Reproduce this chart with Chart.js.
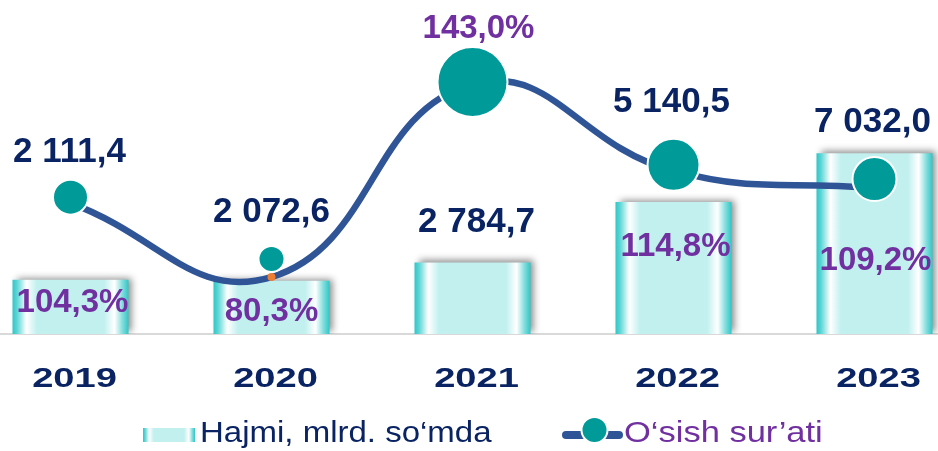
<!DOCTYPE html>
<html>
<head>
<meta charset="utf-8">
<script src="https://cdn.jsdelivr.net/npm/chart.js@4/dist/chart.umd.min.js"></script>
<style>
  html, body { margin: 0; padding: 0; background: #ffffff; overflow: hidden; width: 938px; height: 451px; }
  #wrap { position: absolute; left: -30px; top: 0; width: 1005px; height: 451px; }
</style>
</head>
<body>
<div id="wrap"><canvas id="c" width="1005" height="451"></canvas></div>
<script>
// ---------- data ----------
const years = ['2019', '2020', '2021', '2022', '2023'];
const volume = [2111.4, 2072.6, 2784.7, 5140.5, 7032.0];
const growth = [104.3, 80.3, 143.0, 114.8, 109.2];
const volumeLabels = ['2 111,4', '2 072,6', '2 784,7', '5 140,5', '7 032,0'];
const growthLabels = ['104,3%', '80,3%', '143,0%', '114,8%', '109,2%'];
const legendLabels = ['Hajmi, mlrd. so\u2018mda', 'O\u2018sish sur\u2019ati'];

// ---------- styling ----------
const NAVY = '#0a2463';
const PURPLE = '#70309f';
const TEAL = '#009a99';
const LINE = '#2f5597';
const SHIFT = 30; // canvas is shifted left by this many px
const BAR_PCT = 0.577;
const markerRadius = [17.5, 13, 35, 26, 22];
const markerLift = [6, 18, 2, 6, 9];
const volLabelOffset = [[-1, -130], [0, -71], [4, -43], [-2, -102], [-2, -34]];
const growthLabelOffset = [[2, 97], [0, 32], [6, -58], [2, 73], [1, 70]];

function barGradient(c, l, r) {
  const g = c.createLinearGradient(l, 0, r, 0);
  g.addColorStop(0, '#2ec6c6');
  g.addColorStop(0.04, '#5fd6d6');
  g.addColorStop(0.12, '#ffffff');
  g.addColorStop(0.21, '#c2f0ef');
  g.addColorStop(0.79, '#c2f0ef');
  g.addColorStop(0.88, '#ffffff');
  g.addColorStop(0.95, '#7edcdc');
  g.addColorStop(1, '#2ec6c6');
  return g;
}

function barFill(context) {
  const chart = context.chart;
  const xs = chart.scales.x;
  if (!xs || !chart.chartArea) return '#c2f0ef';
  const cx = xs.getPixelForValue(context.dataIndex);
  const w = (xs.width / years.length) * BAR_PCT;
  return barGradient(chart.ctx, cx - w / 2, cx + w / 2);
}

function drawText(c, text, x, capMid, size, weight, color, sx, align) {
  c.save();
  c.font = weight + ' ' + size + 'px "Liberation Sans", Arial, sans-serif';
  c.fillStyle = color;
  c.textAlign = align || 'center';
  c.textBaseline = 'alphabetic';
  c.translate(x, capMid + 0.358 * size);
  c.scale(sx, 1);
  c.fillText(text, 0, 0);
  c.restore();
}

const liftPlugin = {
  id: 'lift',
  afterDatasetsUpdate(chart) {
    const meta = chart.getDatasetMeta(1);
    meta.data.forEach((p, i) => { p.y -= markerLift[i]; });
  }
};

const barStyle = {
  id: 'barStyle',
  beforeDatasetDraw(chart, args) {
    if (args.meta.type !== 'bar') return;
    const c = chart.ctx;
    c.save();
    c.shadowColor = 'rgba(0,0,0,0.45)';
    c.shadowBlur = 7;
    c.shadowOffsetX = 4;
    c.shadowOffsetY = -2;
  },
  afterDatasetDraw(chart, args) {
    if (args.meta.type !== 'bar') return;
    chart.ctx.restore();
  }
};

const labelPlugin = {
  id: 'labels',
  afterDraw(chart) {
    const c = chart.ctx;
    const xs = chart.scales.x;
    const area = chart.chartArea;
    // years
    years.forEach((y, i) => {
      drawText(c, y, xs.getPixelForValue(i) + 4, area.bottom + 43, 28, 'bold', NAVY, 1.36);
    });
    // volume labels
    const bars = chart.getDatasetMeta(2).data;
    bars.forEach((b, i) => {
      drawText(c, volumeLabels[i], b.x + volLabelOffset[i][0], b.y + volLabelOffset[i][1], 35, 'bold', NAVY, 1);
    });
    // growth labels
    const pts = chart.getDatasetMeta(0).data;
    pts.forEach((p, i) => {
      drawText(c, growthLabels[i], p.x + growthLabelOffset[i][0], p.y + growthLabelOffset[i][1], 33, 'bold', PURPLE, 1);
    });
    // legend
    const L = x => x + SHIFT;
    c.save();
    c.fillStyle = barGradient(c, L(143), L(195));
    c.fillRect(L(143), 428, 52, 14);
    c.restore();
    drawText(c, legendLabels[0], L(200), 431, 30, 'normal', NAVY, 1.10, 'left');
    c.save();
    c.strokeStyle = LINE;
    c.lineWidth = 8;
    c.lineCap = 'round';
    c.beginPath();
    c.moveTo(L(566), 435);
    c.lineTo(L(619), 435);
    c.stroke();
    c.beginPath();
    c.arc(L(594.5), 430, 13, 0, Math.PI * 2);
    c.fillStyle = TEAL;
    c.fill();
    c.lineWidth = 2;
    c.strokeStyle = '#ffffff';
    c.stroke();
    c.restore();
    drawText(c, legendLabels[1], L(624), 431, 30, 'normal', PURPLE, 1.15, 'left');
  }
};

new Chart(document.getElementById('c'), {
  data: {
    labels: years,
    datasets: [
      {
        type: 'line', label: legendLabels[1], data: growth, yAxisID: 'y2',
        borderColor: LINE, borderWidth: 6.5, tension: 0.45, fill: false,
        pointRadius: [0, 4, 0, 0, 0], pointBackgroundColor: '#ed7d31', pointBorderWidth: 0,
        order: 1, clip: false
      },
      {
        type: 'line', label: 'markers', data: growth, yAxisID: 'y2', showLine: false,
        pointRadius: markerRadius, pointBackgroundColor: TEAL,
        pointBorderColor: '#ffffff', pointBorderWidth: 2, order: 0, clip: false
      },
      {
        type: 'bar', label: legendLabels[0], data: volume, yAxisID: 'y',
        backgroundColor: barFill, borderWidth: 0,
        barPercentage: BAR_PCT, categoryPercentage: 1, order: 2
      }
    ]
  },
  options: {
    responsive: false,
    animation: false,
    layout: { autoPadding: false, padding: { top: 0, bottom: 117, left: 0, right: 0 } },
    plugins: { legend: { display: false }, tooltip: { enabled: false } },
    scales: {
      x: {
        grid: { display: false, drawTicks: false },
        ticks: { display: false },
        border: { display: true, color: '#d9d9d9', width: 2 }
      },
      y: { display: false, min: 0, max: 13000 },
      y2: { display: false, min: 61.8, max: 170.3 }
    }
  },
  plugins: [liftPlugin, barStyle, labelPlugin]
});
</script>
</body>
</html>
